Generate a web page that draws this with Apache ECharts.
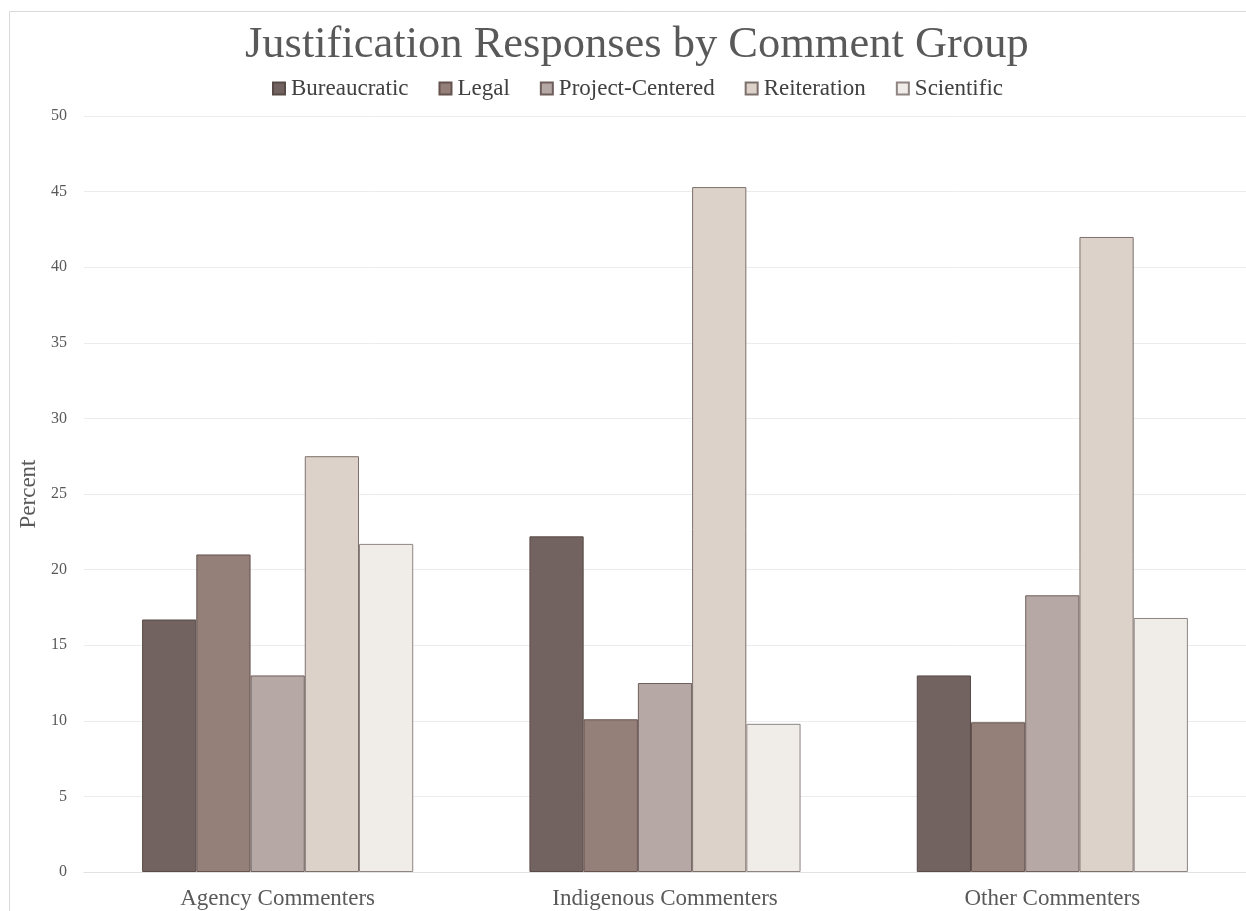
<!DOCTYPE html>
<html>
<head>
<meta charset="utf-8">
<script src="https://cdn.jsdelivr.net/npm/echarts@6/dist/echarts.min.js"></script>
<style>
  html, body { margin: 0; padding: 0; background: #ffffff; }
  #chart { width: 1246px; height: 911px; }
</style>
</head>
<body>
<div id="chart"></div>
<script>
// Comment groups along the x axis
const categories = ['Agency Commenters', 'Indigenous Commenters', 'Other Commenters'];

// Share of justification responses (percent) per group
const bureaucratic    = [16.7, 22.2, 13.0];
const legal           = [21.0, 10.1,  9.9];
const projectCentered = [13.0, 12.5, 18.3];
const reiteration     = [27.5, 45.3, 42.0];
const scientific      = [21.7,  9.8, 16.8];

const seriesNames = ['Bureaucratic', 'Legal', 'Project-Centered', 'Reiteration', 'Scientific'];
const seriesValues = [bureaucratic, legal, projectCentered, reiteration, scientific];

// Y axis tick values
const yTicks = [0, 5, 10, 15, 20, 25, 30, 35, 40, 45, 50];

const fills   = ['#736360', '#947f79', '#b6a8a5', '#dcd2c9', '#f0ece8'];
const borders = ['#574a47', '#65534f', '#6e5f5c', '#7d706c', '#8e8482'];

const serif = "Georgia, 'Liberation Serif', 'DejaVu Serif', serif";

const chart = echarts.init(document.getElementById('chart'), null, { renderer: 'canvas' });

chart.setOption({
  backgroundColor: '#ffffff',
  animation: false,
  graphic: [{
    type: 'rect',
    shape: { x: 9.5, y: 11.5, width: 1300, height: 1000 },
    style: { fill: 'none', stroke: '#d9d9d9', lineWidth: 1 },
    silent: true,
    z: -10
  }],
  title: {
    text: 'Justification Responses by Comment Group',
    left: 240,
    top: 18,
    textStyle: { fontFamily: serif, fontSize: 44.5, fontWeight: 'normal', color: '#595959' }
  },
  legend: {
    top: 72,
    left: 267,
    icon: 'rect',
    itemWidth: 12,
    itemHeight: 12,
    itemGap: 30,
    data: seriesNames,
    textStyle: { fontFamily: serif, fontSize: 23, color: '#404040', padding: [0, 0, 0, 1] }
  },
  grid: { left: 84, right: 0, top: 116, bottom: 39, containLabel: false },
  xAxis: {
    type: 'category',
    data: categories,
    axisTick: { show: false },
    axisLine: { show: true, lineStyle: { color: '#e2e2e2', width: 1 } },
    axisLabel: { fontFamily: serif, fontSize: 23, color: '#595959', margin: 15 }
  },
  yAxis: {
    type: 'value',
    min: yTicks[0],
    max: yTicks[yTicks.length - 1],
    interval: yTicks[1] - yTicks[0],
    name: 'Percent',
    nameLocation: 'middle',
    nameGap: 34,
    nameRotate: 90,
    nameTextStyle: { fontFamily: serif, fontSize: 23, color: '#595959' },
    axisLine: { show: false },
    axisTick: { show: false },
    axisLabel: { fontFamily: serif, fontSize: 16, color: '#595959', margin: 17 },
    splitLine: { lineStyle: { color: '#ececec', width: 1 } }
  },
  series: seriesNames.map((name, i) => ({
    name: name,
    type: 'bar',
    data: seriesValues[i],
    barGap: '0%',
    barCategoryGap: '30%',
    itemStyle: { color: fills[i], borderColor: borders[i], borderWidth: 1 }
  }))
});
</script>
</body>
</html>
